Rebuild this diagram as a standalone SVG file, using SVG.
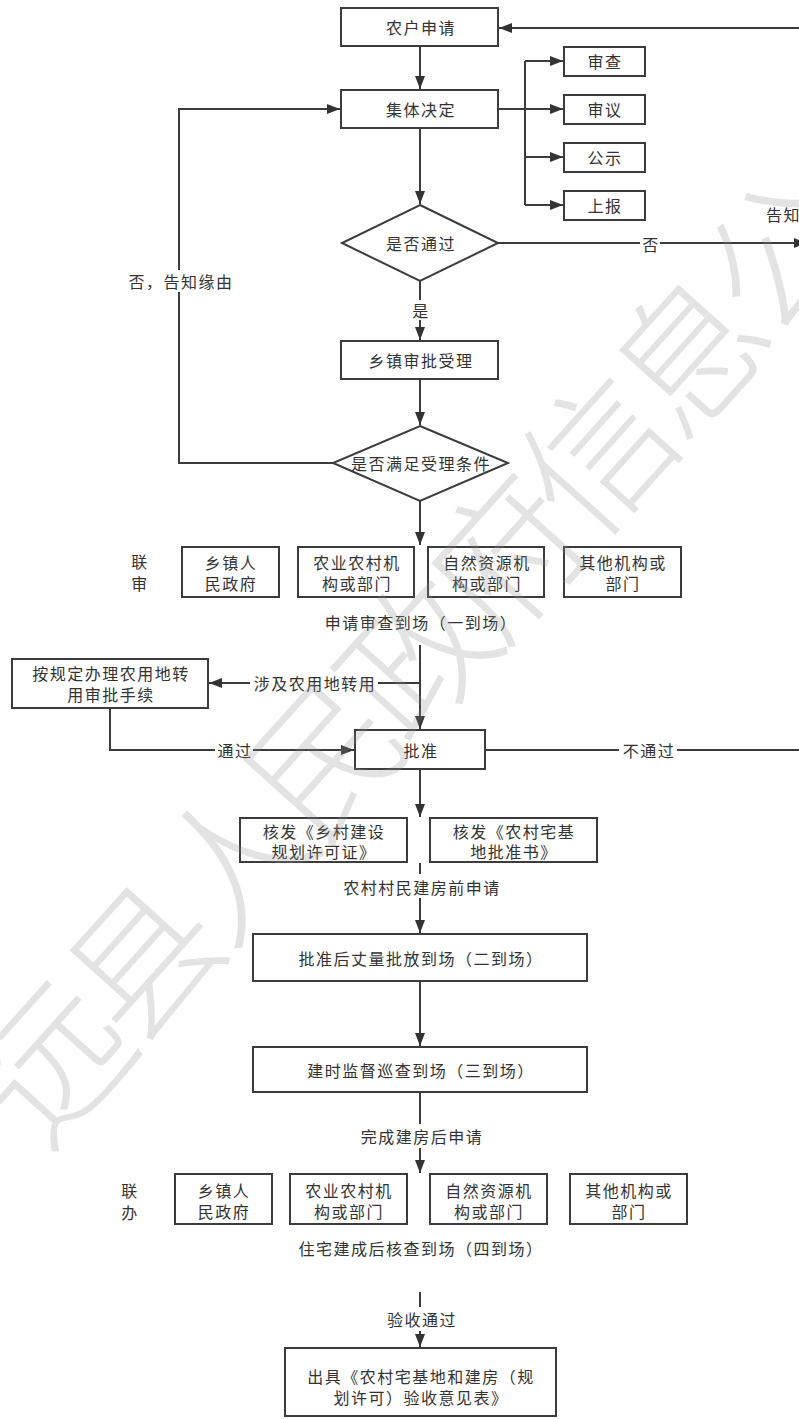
<svg xmlns="http://www.w3.org/2000/svg" width="799" height="1419" viewBox="0 0 799 1419">
<defs>
<marker id="arr" markerUnits="userSpaceOnUse" markerWidth="14" markerHeight="12" refX="13" refY="6" orient="auto">
<path d="M0,1 L13,6 L0,11 Z" fill="#333"/>
</marker>
<style>
.box{fill:none;stroke:#3c3c3c;stroke-width:2}
.ln{fill:none;stroke:#3c3c3c;stroke-width:2}
.t{font-family:"Noto Sans CJK SC","Noto Sans",sans-serif;font-size:16px;letter-spacing:1.5px;fill:#333;text-anchor:middle;dominant-baseline:central}
.bg{fill:#fff}
.wm{font-family:"Noto Sans CJK SC",sans-serif;font-size:148px;font-weight:200;letter-spacing:-12px;fill:#8f8f8f;fill-opacity:0.25;text-anchor:middle;dominant-baseline:central}
</style>
</defs>
<rect width="799" height="1419" fill="#fff"/>

<g id="connectors">
<path class="ln" d="M799,28 H499" marker-end="url(#arr)"/>
<path class="ln" d="M420,46 V89" marker-end="url(#arr)"/>
<path class="ln" d="M498,109 H525 M525,61 V205"/>
<path class="ln" d="M525,61 H563" marker-end="url(#arr)"/>
<path class="ln" d="M525,109 H563" marker-end="url(#arr)"/>
<path class="ln" d="M525,157 H563" marker-end="url(#arr)"/>
<path class="ln" d="M525,205 H563" marker-end="url(#arr)"/>
<path class="ln" d="M420,128 V204" marker-end="url(#arr)"/>
<path class="ln" d="M498,243 H807" marker-end="url(#arr)"/>
<path class="ln" d="M420,281 V340" marker-end="url(#arr)"/>
<path class="ln" d="M420,379 V425" marker-end="url(#arr)"/>
<path class="ln" d="M333,463 H179 V109 H340" marker-end="url(#arr)"/>
<path class="ln" d="M420,501 V545" marker-end="url(#arr)"/>
<path class="ln" d="M420,645 V729" marker-end="url(#arr)"/>
<path class="ln" d="M420,683 H209" marker-end="url(#arr)"/>
<path class="ln" d="M110,708 V750 H354" marker-end="url(#arr)"/>
<path class="ln" d="M485,750 H799"/>
<path class="ln" d="M420,769 V817" marker-end="url(#arr)"/>
<path class="ln" d="M420,863 V933" marker-end="url(#arr)"/>
<path class="ln" d="M420,981 V1046" marker-end="url(#arr)"/>
<path class="ln" d="M420,1092 V1173" marker-end="url(#arr)"/>
<path class="ln" d="M420,1292 V1347" marker-end="url(#arr)"/>

<rect class="bg" x="640" y="233" width="20" height="20"/>
<text class="t" x="651" y="244">否</text>
<rect class="bg" x="411" y="300" width="20" height="20"/>
<text class="t" x="421" y="310">是</text>
<rect class="bg" x="126" y="270" width="108" height="22"/>
<text class="t" x="181" y="281">否，告知缘由</text>
<rect class="bg" x="250" y="673" width="128" height="20"/>
<text class="t" x="315" y="683">涉及农用地转用</text>
<rect class="bg" x="215" y="740" width="38" height="20"/>
<text class="t" x="235" y="750">通过</text>
<rect class="bg" x="619" y="740" width="58" height="20"/>
<text class="t" x="649" y="750">不通过</text>
<rect class="bg" x="338" y="874" width="166" height="24"/>
<text class="t" x="422" y="887">农村村民建房前申请</text>
<rect class="bg" x="356" y="1124" width="130" height="24"/>
<text class="t" x="422" y="1136">完成建房后申请</text>
<rect class="bg" x="382" y="1307" width="78" height="24"/>
<text class="t" x="422" y="1319">验收通过</text>
<text class="t" x="766" y="214" style="text-anchor:start">告知</text>
</g>

<g id="n-apply"><rect class="box" x="341" y="8" width="157" height="38"/><text class="t" x="421" y="27">农户申请</text></g>
<g id="n-collective"><rect class="box" x="341" y="90" width="157" height="38"/><text class="t" x="421" y="109">集体决定</text></g>
<g id="n-review"><rect class="box" x="564" y="47" width="81" height="29"/><text class="t" x="605" y="61">审查</text></g>
<g id="n-deliberate"><rect class="box" x="564" y="95" width="81" height="29"/><text class="t" x="605" y="109">审议</text></g>
<g id="n-publicize"><rect class="box" x="564" y="143" width="81" height="29"/><text class="t" x="605" y="157">公示</text></g>
<g id="n-report"><rect class="box" x="564" y="191" width="81" height="29"/><text class="t" x="605" y="205">上报</text></g>
<g id="n-pass"><polygon class="box" points="420,205 498,243 420,281 342,243"/><text class="t" x="421" y="243">是否通过</text></g>
<g id="n-town-accept"><rect class="box" x="341" y="341" width="157" height="38"/><text class="t" x="421" y="360">乡镇审批受理</text></g>
<g id="n-condition"><polygon class="box" points="420,426 508,463 420,501 333,463"/><text class="t" x="421" y="463">是否满足受理条件</text></g>

<g id="n-joint-review-label"><text class="t" x="140" y="561">联<tspan x="140" dy="22">审</tspan></text></g>
<g id="n-jr-town"><rect class="box" x="182" y="547" width="97" height="50"/><text class="t" x="231" y="562">乡镇人<tspan x="231" dy="21">民政府</tspan></text></g>
<g id="n-jr-agri"><rect class="box" x="298" y="547" width="116" height="50"/><text class="t" x="357" y="562">农业农村机<tspan x="357" dy="21">构或部门</tspan></text></g>
<g id="n-jr-nature"><rect class="box" x="428" y="547" width="116" height="50"/><text class="t" x="487" y="562">自然资源机<tspan x="487" dy="21">构或部门</tspan></text></g>
<g id="n-jr-other"><rect class="box" x="564" y="547" width="117" height="50"/><text class="t" x="623" y="562">其他机构或<tspan x="623" dy="21">部门</tspan></text></g>
<g id="n-visit1"><text class="t" x="421" y="622">申请审查到场（一到场）</text></g>

<g id="n-farmland"><rect class="box" x="12" y="659" width="196" height="49"/><text class="t" x="111" y="673">按规定办理农用地转<tspan x="111" dy="21">用审批手续</tspan></text></g>
<g id="n-approve"><rect class="box" x="355" y="730" width="130" height="39"/><text class="t" x="421" y="750">批准</text></g>
<g id="n-permit"><rect class="box" x="240" y="818" width="167" height="44"/><text class="t" x="324" y="831">核发《乡村建设<tspan x="324" dy="20">规划许可证》</tspan></text></g>
<g id="n-homestead"><rect class="box" x="430" y="818" width="167" height="44"/><text class="t" x="514" y="831">核发《农村宅基<tspan x="514" dy="20">地批准书》</tspan></text></g>
<g id="n-visit2"><rect class="box" x="253" y="934" width="334" height="47"/><text class="t" x="421" y="958">批准后丈量批放到场（二到场）</text></g>
<g id="n-visit3"><rect class="box" x="253" y="1047" width="334" height="45"/><text class="t" x="421" y="1070">建时监督巡查到场（三到场）</text></g>

<g id="n-joint-office-label"><text class="t" x="130" y="1190">联<tspan x="130" dy="22">办</tspan></text></g>
<g id="n-jo-town"><rect class="box" x="175" y="1174" width="97" height="50"/><text class="t" x="224" y="1190">乡镇人<tspan x="224" dy="21">民政府</tspan></text></g>
<g id="n-jo-agri"><rect class="box" x="290" y="1174" width="117" height="50"/><text class="t" x="349" y="1190">农业农村机<tspan x="349" dy="21">构或部门</tspan></text></g>
<g id="n-jo-nature"><rect class="box" x="430" y="1174" width="117" height="50"/><text class="t" x="489" y="1190">自然资源机<tspan x="489" dy="21">构或部门</tspan></text></g>
<g id="n-jo-other"><rect class="box" x="570" y="1174" width="117" height="50"/><text class="t" x="629" y="1190">其他机构或<tspan x="629" dy="21">部门</tspan></text></g>
<g id="n-visit4"><text class="t" x="421" y="1248">住宅建成后核查到场（四到场）</text></g>
<g id="n-final"><rect class="box" x="285" y="1348" width="271" height="68"/><text class="t" x="421" y="1376">出具《农村宅基地和建房（规<tspan x="421" dy="21">划许可）验收意见表》</tspan></text></g>

<g id="watermark"><text class="wm" transform="translate(405,655) rotate(-48)">远县人民政府信息公</text></g>
</svg>
